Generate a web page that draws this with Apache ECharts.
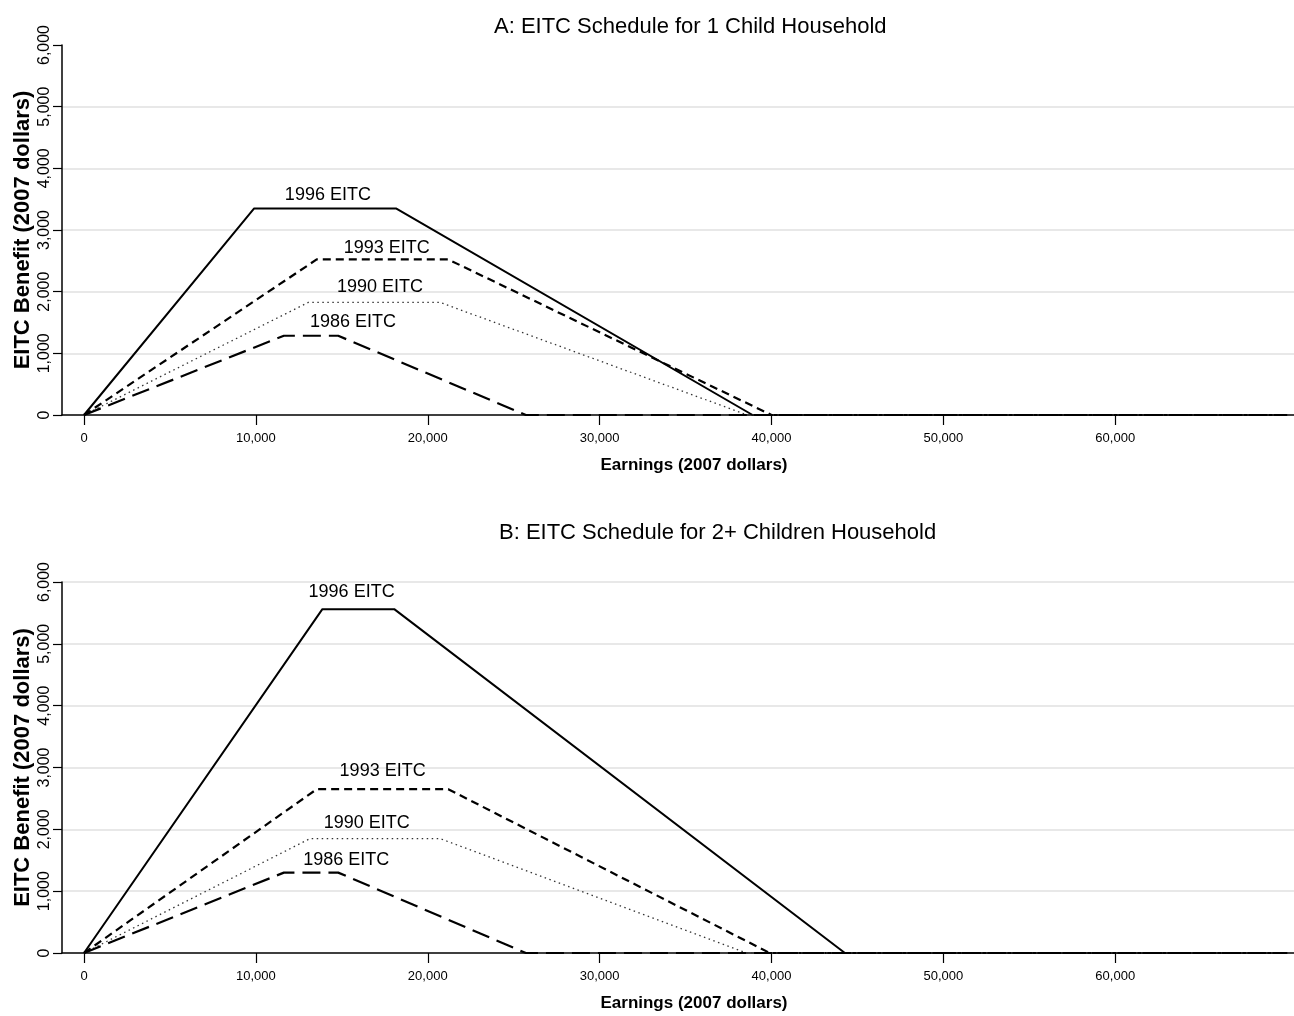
<!DOCTYPE html>
<html><head><meta charset="utf-8">
<script src="https://cdn.jsdelivr.net/npm/echarts@6/dist/echarts.min.js"></script>
<style>html,body{margin:0;padding:0;background:#fff}#c{width:1294px;height:1016px}</style>
</head><body><div id="c"></div>
<script>
// ---- data (2007 dollars) ----
const xTicks = [0, 10000, 20000, 30000, 40000, 50000, 60000];
const yTicks = [0, 1000, 2000, 3000, 4000, 5000, 6000];

// Panel A: 1 child household  (earnings x, benefit y)
const a1996x = [0, 9900, 18150, 38900, 70000];
const a1996y = [0, 3350, 3350, 0, 0];
const a1993x = [0, 13540, 21190, 40000, 70000];
const a1993y = [0, 2523, 2523, 0, 0];
const a1990x = [0, 13050, 20710, 38600, 70000];
const a1990y = [0, 1826, 1826, 0, 0];
const a1986x = [0, 11630, 14790, 25710, 70000];
const a1986y = [0, 1285, 1285, 0, 0];

// Panel B: 2+ children household
const b1996x = [0, 13870, 18050, 44270, 70000];
const b1996y = [0, 5561, 5561, 0, 0];
const b1993x = [0, 13540, 21190, 39900, 70000];
const b1993y = [0, 2649, 2649, 0, 0];
const b1990x = [0, 13150, 20710, 38550, 70000];
const b1990y = [0, 1850, 1850, 0, 0];
const b1986x = [0, 11630, 14790, 25710, 70000];
const b1986y = [0, 1300, 1300, 0, 0];

// line labels: text, anchor earnings, anchor benefit
const labelNames = ['1996 EITC', '1993 EITC', '1990 EITC', '1986 EITC'];
const labelAx = [14190, 17610, 17220, 15650];
const labelAy = [3566, 2702, 2070, 1512];
const labelBx = [15570, 17375, 16445, 15260];
const labelBy = [5830, 2945, 2108, 1505];

const titleA = 'A: EITC Schedule for 1 Child Household';
const titleB = 'B: EITC Schedule for 2+ Children Household';
const xName = 'Earnings (2007 dollars)';
const yName = 'EITC Benefit (2007 dollars)';

// ---- chart ----
const SANS = '"Liberation Sans", Arial, sans-serif';
const zip = (xs, ys) => xs.map((x, i) => [x, ys[i]]);
const fmt = v => Number(v).toLocaleString('en-US');

const styles = {
  '1996': {type: 'solid', width: 2, color: '#000'},
  '1993': {type: [8, 5], width: 2.2, color: '#000'},
  '1990': {type: [1.5, 3.5], width: 1.3, color: '#333'},
  '1986': {type: [18, 8], width: 2.2, color: '#000'}
};

function xAxis(gi) {
  return {
    type: 'value', gridIndex: gi, min: -1280, max: 70400,
    name: xName, nameLocation: 'middle', nameGap: 42,
    nameTextStyle: {fontFamily: SANS, fontWeight: 'bold', fontSize: 17, color: '#000', padding: [0, 0, 0, 32]},
    axisLine: {show: true, onZero: false, lineStyle: {color: '#000', width: 1.5}},
    axisTick: {show: true, length: 10, inside: false, customValues: xTicks, lineStyle: {color: '#000', width: 1.2}},
    axisLabel: {show: true, customValues: xTicks, margin: 17, formatter: fmt, fontFamily: SANS, fontSize: 13, color: '#000'},
    splitLine: {show: false}
  };
}
function yAxis(gi, showMax) {
  return {
    type: 'value', gridIndex: gi, min: 0, max: 6000, interval: 1000,
    name: yName, nameLocation: 'middle', nameGap: 28, nameRotate: 90, nameMoveOverlap: false,
    nameTextStyle: {fontFamily: SANS, fontWeight: 'bold', fontSize: 22, color: '#000'},
    axisLine: {show: true, onZero: false, lineStyle: {color: '#000', width: 1.5}},
    axisTick: {show: true, length: 9, lineStyle: {color: '#000', width: 1.2}},
    axisLabel: {show: true, rotate: 90, margin: 9, formatter: fmt, fontFamily: SANS, fontSize: 16, color: '#000'},
    splitLine: {show: true, showMinLine: false, showMaxLine: showMax, lineStyle: {color: '#e8e8e8', width: 2}}
  };
}
function lineSeries(gi, year, xs, ys) {
  return {
    type: 'line', xAxisIndex: gi, yAxisIndex: gi, data: zip(xs, ys),
    symbol: 'none', animation: false, lineStyle: styles[year], z: 3
  };
}
function labelSeries(gi, xs, ys) {
  return {
    type: 'scatter', xAxisIndex: gi, yAxisIndex: gi, symbolSize: 1, animation: false,
    itemStyle: {color: 'rgba(0,0,0,0)'}, z: 4, silent: true,
    data: labelNames.map((n, i) => ({name: n, value: [xs[i], ys[i]]})),
    label: {show: true, position: 'inside', formatter: '{b}', fontFamily: SANS, fontSize: 18,
            color: '#000', textBorderWidth: 0, opacity: 1}
  };
}

const chart = echarts.init(document.getElementById('c'), null, {renderer: 'canvas'});
chart.setOption({
  backgroundColor: '#fff',
  animation: false,
  title: [
    {text: titleA, left: 489, top: 11, textStyle: {fontFamily: SANS, fontWeight: 'normal', fontSize: 22, color: '#000'}},
    {text: titleB, left: 494, top: 517, textStyle: {fontFamily: SANS, fontWeight: 'normal', fontSize: 22, color: '#000'}}
  ],
  grid: [
    {left: 62, right: 0, top: 45, height: 370},
    {left: 62, right: 0, top: 582, height: 371}
  ],
  xAxis: [xAxis(0), xAxis(1)],
  yAxis: [yAxis(0, false), yAxis(1, true)],
  series: [
    lineSeries(0, '1996', a1996x, a1996y),
    lineSeries(0, '1993', a1993x, a1993y),
    lineSeries(0, '1990', a1990x, a1990y),
    lineSeries(0, '1986', a1986x, a1986y),
    labelSeries(0, labelAx, labelAy),
    lineSeries(1, '1996', b1996x, b1996y),
    lineSeries(1, '1993', b1993x, b1993y),
    lineSeries(1, '1990', b1990x, b1990y),
    lineSeries(1, '1986', b1986x, b1986y),
    labelSeries(1, labelBx, labelBy)
  ]
});
</script></body></html>
